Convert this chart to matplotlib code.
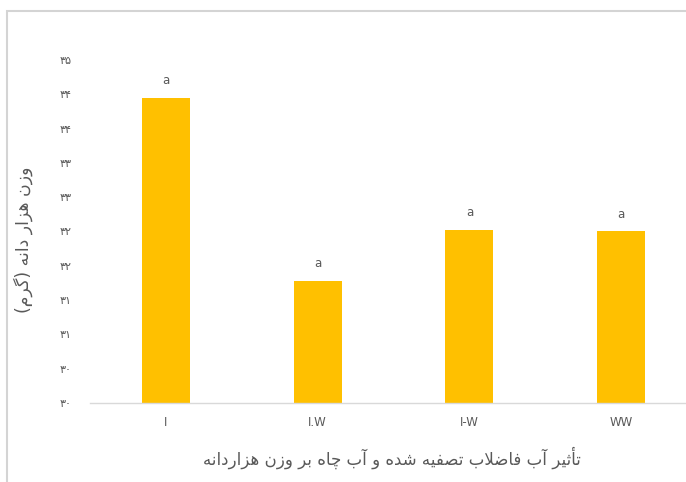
import matplotlib
matplotlib.use("Agg")
import matplotlib.pyplot as plt
from matplotlib.patches import Rectangle

categories = ["I", "I.W", "I-W", "WW"]
values = [34.45, 31.78, 32.52, 32.50]
letters = ["a", "a", "a", "a"]
ytick_values = [30, 30.5, 31, 31.5, 32, 32.5, 33, 33.5, 34, 34.5, 35]
ytick_labels = ["۳۰", "۳۰", "۳۱", "۳۱", "۳۲", "۳۲", "۳۳", "۳۳", "۳۴", "۳۴", "۳۵"]
xlabel_text = "تأثیر آب فاضلاب تصفیه شده و آب چاه بر وزن هزاردانه"
ylabel_text = "وزن هزار دانه (گرم)"

# --- minimal Arabic/Persian shaping (presentation forms) + visual reordering ---
FORMS = {
    "\u0627": ("\uFE8D", "\uFE8E", None, None),
    "\u0623": ("\uFE83", "\uFE84", None, None),
    "\u0622": ("\uFE81", "\uFE82", None, None),
    "\u0628": ("\uFE8F", "\uFE90", "\uFE91", "\uFE92"),
    "\u062A": ("\uFE95", "\uFE96", "\uFE97", "\uFE98"),
    "\u062B": ("\uFE99", "\uFE9A", "\uFE9B", "\uFE9C"),
    "\u0686": ("\uFB7A", "\uFB7B", "\uFB7C", "\uFB7D"),
    "\u062F": ("\uFEA9", "\uFEAA", None, None),
    "\u0631": ("\uFEAD", "\uFEAE", None, None),
    "\u0632": ("\uFEAF", "\uFEB0", None, None),
    "\u0634": ("\uFEB5", "\uFEB6", "\uFEB7", "\uFEB8"),
    "\u0635": ("\uFEB9", "\uFEBA", "\uFEBB", "\uFEBC"),
    "\u0636": ("\uFEBD", "\uFEBE", "\uFEBF", "\uFEC0"),
    "\u0641": ("\uFED1", "\uFED2", "\uFED3", "\uFED4"),
    "\u0644": ("\uFEDD", "\uFEDE", "\uFEDF", "\uFEE0"),
    "\u0645": ("\uFEE1", "\uFEE2", "\uFEE3", "\uFEE4"),
    "\u0646": ("\uFEE5", "\uFEE6", "\uFEE7", "\uFEE8"),
    "\u0647": ("\uFEE9", "\uFEEA", "\uFEEB", "\uFEEC"),
    "\u0648": ("\uFEED", "\uFEEE", None, None),
    "\u06CC": ("\uFBFC", "\uFBFD", "\uFBFE", "\uFBFF"),
    "\u06AF": ("\uFB92", "\uFB93", "\uFB94", "\uFB95"),
}
LAM_ALEF = {"\u0627": ("\uFEFB", "\uFEFC"), "\u0623": ("\uFEF7", "\uFEF8"),
            "\u0622": ("\uFEF5", "\uFEF6")}


def dual(c):
    return c in FORMS and FORMS[c][2] is not None


def shape(text):
    chars = list(text)
    out = []
    i = 0
    n = len(chars)
    while i < n:
        c = chars[i]
        if c not in FORMS:
            out.append(c)
            i += 1
            continue
        prev = chars[i - 1] if i > 0 else None
        join_prev = prev is not None and dual(prev)
        if c == "\u0644" and i + 1 < n and chars[i + 1] in LAM_ALEF:
            iso, fin = LAM_ALEF[chars[i + 1]]
            out.append(fin if join_prev else iso)
            i += 2
            continue
        nxt = chars[i + 1] if i + 1 < n else None
        join_next = dual(c) and nxt is not None and nxt in FORMS
        iso, fin, ini, med = FORMS[c]
        if join_prev and join_next:
            out.append(med)
        elif join_prev:
            out.append(fin)
        elif join_next:
            out.append(ini)
        else:
            out.append(iso)
        i += 1
    vis = "".join(reversed(out))
    return vis.translate(str.maketrans("()", ")("))


W, H = 686, 482
fig = plt.figure(figsize=(W / 100, H / 100), dpi=100)
fig.patch.set_facecolor("white")

# chart frame (cropped at right and bottom)
fig.patches.append(Rectangle((7 / W, -0.1), 1.2, (H - 11) / H + 0.1,
                             transform=fig.transFigure, fill=False,
                             edgecolor="#d4d4d4", linewidth=1.5))

left, right, top, bottom = 90, 697, 60, 403
ax = fig.add_axes([left / W, (H - bottom) / H, (right - left) / W, (bottom - top) / H])
ax.set_facecolor("none")

x = range(len(categories))
bars = ax.bar(x, [v - 30 for v in values], bottom=30, width=0.316, color="#FFC000")
ax.set_xlim(-0.5, len(categories) - 0.5)
ax.set_ylim(30, 35)
for xi, v, t in zip(x, values, letters):
    ax.text(xi, v + 0.16, t, ha="center", va="bottom", fontsize=8.5, color="#595959")

ax.set_yticks(ytick_values)
ax.set_yticklabels(ytick_labels, fontsize=8, color="#595959", family=["DejaVu Sans"])
ax.set_xticks(list(x))
ax.set_xticklabels(categories, fontsize=8.5, color="#595959")
ax.tick_params(axis="both", length=0)
ax.tick_params(axis="y", pad=13)
ax.tick_params(axis="x", pad=9)
for s in ["top", "right", "left"]:
    ax.spines[s].set_visible(False)
ax.spines["bottom"].set_color("#d9d9d9")
ax.spines["bottom"].set_linewidth(1.0)

fig.text(392 / W, (H - 458) / H, shape(xlabel_text), ha="center", va="center",
         fontsize=12, color="#595959", family=["DejaVu Sans"])
fig.text(23 / W, (H - 240) / H, shape(ylabel_text), ha="center", va="center",
         rotation=90, fontsize=12.5, color="#595959", family=["DejaVu Sans"])

fig.savefig("out.png", dpi=100, facecolor="white")
